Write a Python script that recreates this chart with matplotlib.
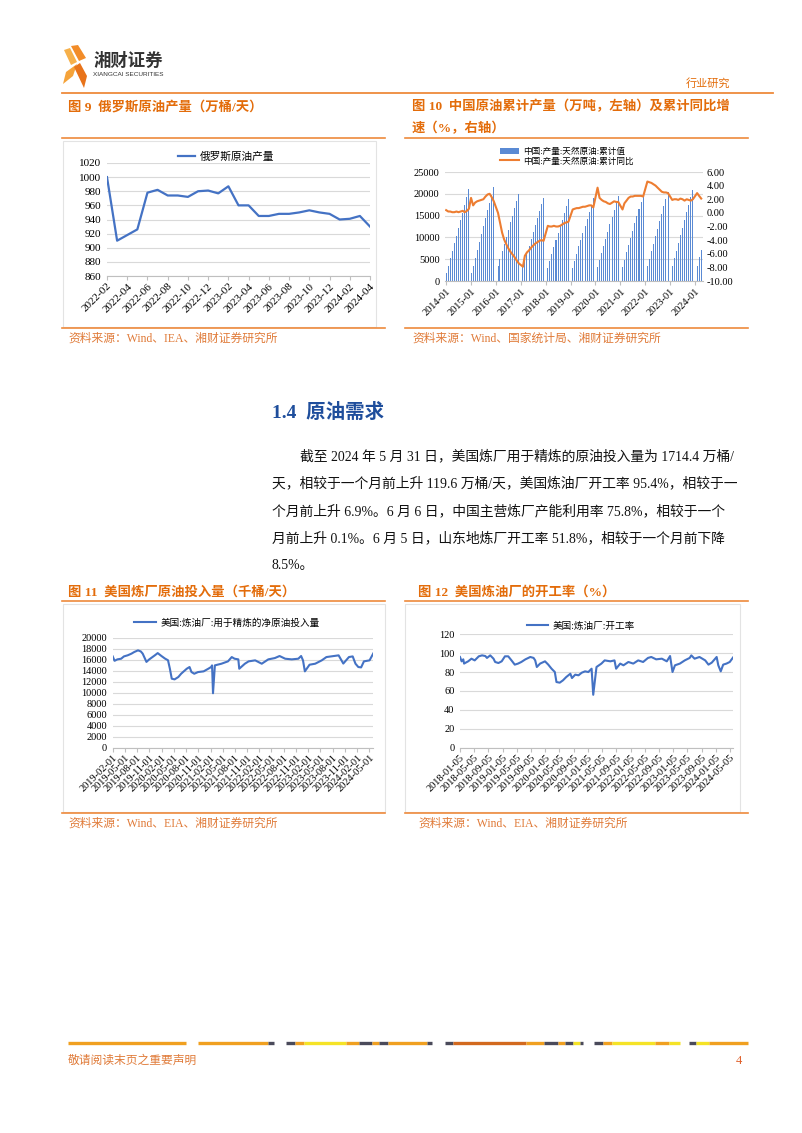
import numpy as np
import pandas as pd
import matplotlib
matplotlib.use('Agg')
import matplotlib.pyplot as plt
from matplotlib.patches import Polygon, Rectangle

plt.rcParams['font.family'] = ['Liberation Serif', 'Noto Sans CJK SC']
plt.rcParams['axes.unicode_minus'] = False

# ---- fig 9: russia crude output (10k bbl/d), monthly 2022-02 .. 2024-04
ru_months = pd.date_range('2022-02-01', '2024-04-01', freq='MS')
ru_output = [1000, 910, 918, 926, 978, 982, 974, 974, 972, 980, 981, 977, 987,
             960, 960, 945, 945, 948, 948, 950, 953, 950, 948, 940, 941, 945, 930]
ru_ticks = ['2022-02', '2022-04', '2022-06', '2022-08', '2022-10', '2022-12', '2023-02',
            '2023-04', '2023-06', '2023-08', '2023-10', '2023-12', '2024-02', '2024-04']

# ---- fig 10: china crude output, cumulative (10k t) and cumulative yoy (%)
cn_months = pd.date_range('2014-01-01', '2024-04-01', freq='MS')
nan = np.nan
cn_cum = [1780, 3450, 5200, 6900, 8700, 10400, 12200, 14000, 15700, 17500, 19200, 21143,
          1790, 3500, 5350, 7100, 8950, 10750, 12600, 14450, 16200, 18000, 19700, 21456,
          nan, 3370, 5150, 6800, 8500, 10160, 11800, 13450, 15000, 16700, 18300, 19969,
          nan, 3230, 4900, 6490, 8110, 9690, 11290, 12880, 14430, 16020, 17560, 19151,
          nan, 3070, 4690, 6270, 7870, 9410, 10970, 12540, 14070, 15650, 17240, 18911,
          nan, 3070, 4690, 6290, 7920, 9470, 11060, 12650, 14180, 15790, 17380, 19101,
          nan, 3160, 4850, 6460, 8120, 9720, 11350, 12990, 14590, 16230, 17870, 19477,
          nan, 3220, 4920, 6570, 8260, 9890, 11560, 13250, 14880, 16560, 18220, 19898,
          nan, 3350, 5110, 6810, 8560, 10250, 11970, 13700, 15370, 17110, 18820, 20467,
          nan, 3430, 5220, 6970, 8770, 10510, 12270, 14050, 15760, 17540, 19300, 20891,
          nan, 3530, 5410, 7140]
cn_yoy = [0.4, 0.2, 0.2, 0.1, 0.1, 0.2, 0.1, 0.2, 0.3, 0.1, 0.3, 0.6,
          2.2, 1.1, 1.5, 1.7, 1.8, 1.9, 2.0, 2.4, 2.7, 2.8, 2.3, 1.7,
          nan, 0.0, -1.4, -2.9, -3.9, -4.6, -5.2, -5.7, -6.1, -6.5, -7.0, -7.4,
          nan, -7.9, -6.3, -5.8, -5.5, -5.1, -4.8, -4.5, -4.3, -4.1, -4.0, -4.1,
          nan, -1.9, -2.0, -2.0, -1.9, -2.0, -2.0, -1.9, -1.7, -1.5, -1.4, -1.3,
          nan, 0.5, 0.6, 0.7, 0.7, 0.8, 0.9, 0.9, 1.0, 1.1, 1.1, 0.8,
          nan, 3.7, 2.2, 1.9, 1.7, 1.6, 1.4, 1.3, 1.5, 1.7, 1.6, 1.6,
          nan, 0.5, 1.4, 1.8, 2.2, 2.4, 2.4, 2.5, 2.5, 2.5, 2.5, 2.4,
          nan, 4.6, 4.5, 4.4, 4.2, 4.0, 3.7, 3.4, 3.1, 3.0, 3.0, 2.9,
          nan, 1.9, 2.0, 2.0, 1.9, 2.1, 2.0, 1.8, 2.0, 1.9, 1.8, 2.0,
          nan, 2.9, 2.5, 2.1]
cn_ticks = ['2014-01', '2015-01', '2016-01', '2017-01', '2018-01', '2019-01',
            '2020-01', '2021-01', '2022-01', '2023-01', '2024-01']

# ---- fig 11: us refinery net crude input (k bbl/d), weekly read at turning points
us_in_dates = ['2019-02-01', '2019-02-15', '2019-03-08', '2019-04-05', '2019-04-26', '2019-05-24',
               '2019-06-21', '2019-07-12', '2019-08-09', '2019-08-30', '2019-09-13', '2019-10-11',
               '2019-11-01', '2019-12-13', '2020-01-03', '2020-01-31', '2020-02-28', '2020-03-20',
               '2020-04-03', '2020-04-17', '2020-05-08', '2020-06-05', '2020-06-26', '2020-08-07',
               '2020-08-28', '2020-09-11', '2020-10-02', '2020-10-30', '2020-12-11', '2021-01-15',
               '2021-02-05', '2021-02-12', '2021-02-19', '2021-03-05', '2021-04-23', '2021-06-11',
               '2021-07-09', '2021-07-30', '2021-08-27', '2021-09-03', '2021-10-15', '2021-11-12',
               '2021-12-31', '2022-02-18', '2022-04-08', '2022-05-27', '2022-07-01', '2022-08-12',
               '2022-09-30', '2022-11-18', '2022-12-09', '2022-12-23', '2023-01-06', '2023-02-10',
               '2023-03-24', '2023-05-12', '2023-06-16', '2023-07-21', '2023-09-15', '2023-10-20',
               '2023-12-01', '2023-12-29', '2024-01-19', '2024-02-09', '2024-03-01', '2024-03-22',
               '2024-05-03', '2024-05-31']
us_in_vals = [16600, 15800, 16060, 16180, 16600, 16800,
              17100, 17400, 17700, 17500, 17100, 15600,
              16060, 16800, 17200, 16670, 16180, 15900,
              14360, 12550, 12420, 12850, 13450, 14360,
              14670, 13760, 13450, 13750, 13880, 14360,
              14670, 14970, 9900, 14970, 15270, 15700,
              16480, 16180, 16060, 14360, 15270, 15700,
              15880, 15270, 16060, 16300, 16670, 16180,
              16060, 16180, 16670, 15880, 13880, 15090,
              15270, 15880, 16480, 16600, 16790, 15300,
              16480, 16600, 15270, 14670, 14600, 15700,
              15880, 17144]
us_in_ticks = ['2019-02-01', '2019-05-01', '2019-08-01', '2019-11-01', '2020-02-01', '2020-05-01',
               '2020-08-01', '2020-11-01', '2021-02-01', '2021-05-01', '2021-08-01', '2021-11-01',
               '2022-02-01', '2022-05-01', '2022-08-01', '2022-11-01', '2023-02-01', '2023-05-01',
               '2023-08-01', '2023-11-01', '2024-02-01', '2024-05-01']

# ---- fig 12: us refinery utilisation (%)
us_ut_dates = ['2018-01-05', '2018-01-19', '2018-02-02', '2018-02-09', '2018-02-23', '2018-03-16',
               '2018-04-13', '2018-05-11', '2018-06-15', '2018-07-13', '2018-08-10', '2018-08-24',
               '2018-09-21', '2018-10-19', '2018-11-02', '2018-11-30', '2018-12-28', '2019-01-25',
               '2019-02-22', '2019-03-22', '2019-04-19', '2019-05-17', '2019-06-14', '2019-07-19',
               '2019-08-30', '2019-09-27', '2019-10-11', '2019-10-25', '2019-11-22', '2020-01-03',
               '2020-01-31', '2020-02-28', '2020-03-27', '2020-04-10', '2020-05-08', '2020-06-05',
               '2020-07-03', '2020-08-07', '2020-08-21', '2020-09-18', '2020-10-16', '2020-11-13',
               '2020-12-11', '2021-01-08', '2021-02-05', '2021-02-19', '2021-03-19', '2021-04-30',
               '2021-05-28', '2021-07-16', '2021-08-20', '2021-09-03', '2021-10-08', '2021-11-05',
               '2021-12-17', '2022-01-28', '2022-03-11', '2022-04-22', '2022-06-03', '2022-07-01',
               '2022-08-12', '2022-09-30', '2022-11-11', '2022-12-09', '2022-12-30', '2023-01-20',
               '2023-03-03', '2023-04-14', '2023-05-26', '2023-06-09', '2023-07-07', '2023-08-18',
               '2023-10-06', '2023-11-03', '2023-12-01', '2024-01-12', '2024-01-26', '2024-02-16',
               '2024-03-08', '2024-04-05', '2024-05-03', '2024-05-31']
us_ut_vals = [96, 91.4, 93.5, 89, 90, 91.4,
              94.2, 92.4, 96.7, 97.7, 97, 95,
              97.7, 94.2, 90.7, 89.6, 91.4, 96.7,
              96.7, 92.4, 87.9, 89, 90.7, 93.5,
              96, 95, 92.4, 85.4, 89, 91.4,
              87.9, 83.6, 80.1, 69.5, 68.8, 71.3,
              74.8, 78.3, 73.7, 77.3, 76.6, 79.4,
              80.8, 80.1, 83.6, 56.0, 85.4, 89,
              92.4, 91.4, 92.4, 83.6, 89, 87.2,
              90.7, 89, 92.4, 90.7, 95, 96,
              93.5, 94.2, 91.4, 97, 80.1, 87.2,
              89, 92.4, 95, 97.7, 94.2, 96,
              92.4, 87.9, 90, 96, 87.2, 80.8,
              87.9, 89, 90.7, 95.4]
us_ut_ticks = ['2018-01-05', '2018-05-05', '2018-09-05', '2019-01-05', '2019-05-05', '2019-09-05',
               '2020-01-05', '2020-05-05', '2020-09-05', '2021-01-05', '2021-05-05', '2021-09-05',
               '2022-01-05', '2022-05-05', '2022-09-05', '2023-01-05', '2023-05-05', '2023-09-05',
               '2024-01-05', '2024-05-05']

body_lines = ['截至 2024 年 5 月 31 日，美国炼厂用于精炼的原油投入量为 1714.4 万桶/',
              '天，相较于一个月前上升 119.6 万桶/天，美国炼油厂开工率 95.4%，相较于一',
              '个月前上升 6.9%。6 月 6 日，中国主营炼厂产能利用率 75.8%，相较于一个',
              '月前上升 0.1%。6 月 5 日，山东地炼厂开工率 51.8%，相较于一个月前下降',
              '8.5%。']

ORANGE = '#E36C0A'
RULE = '#EE8A3C'
BLUE = '#4472C4'
GRID = '#D9D9D9'
W, H = 802, 1133

fig = plt.figure(figsize=(W / 100, H / 100), dpi=100)
page = fig.add_axes([0, 0, 1, 1])
page.set_xlim(0, W)
page.set_ylim(H, 0)
page.axis('off')


def box(x0, y0, x1, y1):
    return [x0 / W, 1 - y1 / H, (x1 - x0) / W, (y1 - y0) / H]


def fpos(x, y):
    return (x / W, 1 - y / H)


def style(ax, fs):
    for s in ['left', 'right', 'top']:
        ax.spines[s].set_visible(False)
    ax.spines['bottom'].set_color('#BFBFBF')
    ax.yaxis.grid(True, color=GRID, lw=0.8)
    ax.set_axisbelow(True)
    ax.tick_params(axis='y', length=0, labelsize=fs, pad=4)
    ax.tick_params(axis='x', length=3, color='#BFBFBF', labelsize=fs, pad=1)


# header
page.add_patch(Polygon([(71, 46), (78, 45), (86, 58), (79, 61)], color='#F28C28', lw=0))
page.add_patch(Polygon([(64, 50), (70, 48), (77, 62), (71, 65)], color='#F6B04A', lw=0))
page.add_patch(Polygon([(63, 84), (66, 72), (77, 64), (73, 76)], color='#F5A33A', lw=0))
page.add_patch(Polygon([(74, 67), (80, 63), (87, 76), (84, 88)], color='#E8731A', lw=0))
page.text(93, 61, '湘财证券', fontsize=12.5, fontweight='bold', color='#333333',
          family=['Noto Sans CJK SC'], va='center')
page.text(93, 75, 'XIANGCAI SECURITIES', fontsize=4.6, color='#333333',
          family=['Liberation Sans'], va='center')
page.text(730, 83, '行业研究', fontsize=8, color=ORANGE, ha='right', va='center')
page.plot([62, 773], [93, 93], color=RULE, lw=1.3)

# section rules and captions
for x0, x1 in [(62, 385), (405, 748)]:
    page.plot([x0, x1], [138, 138], color=RULE, lw=1.2)
    page.plot([x0, x1], [328, 328], color=RULE, lw=1.2)
    page.plot([x0, x1], [601, 601], color=RULE, lw=1.2)
    page.plot([x0, x1], [813, 813], color=RULE, lw=1.2)

tkw = dict(fontsize=9.6, fontweight='bold', color=ORANGE, va='center')
page.text(68, 107, '图 9  俄罗斯原油产量（万桶/天）', **tkw)
page.text(412, 107, '图 10  中国原油累计产量（万吨，左轴）及累计同比增', **tkw)
page.text(412, 128, '速（%，右轴）', **tkw)
page.text(68, 592, '图 11  美国炼厂原油投入量（千桶/天）', **tkw)
page.text(418, 592, '图 12  美国炼油厂的开工率（%）', **tkw)

skw = dict(fontsize=8.5, color='#E07B39', va='center')
page.text(68, 339, '资料来源：Wind、IEA、湘财证券研究所', **skw)
page.text(412, 339, '资料来源：Wind、国家统计局、湘财证券研究所', **skw)
page.text(68, 824, '资料来源：Wind、EIA、湘财证券研究所', **skw)
page.text(418, 824, '资料来源：Wind、EIA、湘财证券研究所', **skw)

# chart frames
for x0, y0, x1, y1 in [(63, 141, 376, 327), (63, 604, 385, 812), (405, 604, 740, 812)]:
    page.add_patch(Rectangle((x0, y0), x1 - x0, y1 - y0, fill=False, ec='#E3E3E3', lw=0.8))

# body text
page.text(272, 412, '1.4  原油需求', fontsize=14, fontweight='bold', color='#1F4E9C', va='center')
for i, line in enumerate(body_lines):
    page.text(300 if i == 0 else 272, 456 + i * 27.5, line, fontsize=9.95, color='#111111',
              va='center')

# footer strip
strip = [(68, 186, '#F0A020'), (198, 268, '#F0A020'), (268, 274, '#4A4A5A'),
         (286, 295, '#4A4A5A'), (295, 304, '#F0A020'), (304, 346, '#F5E326'),
         (346, 359, '#F0A020'), (359, 372, '#4A4A5A'), (372, 379, '#F0A020'),
         (379, 388, '#4A4A5A'), (388, 427, '#F0A020'), (427, 432, '#4A4A5A'),
         (445, 453, '#4A4A5A'), (453, 526, '#D2691E'), (526, 544, '#F0A020'),
         (544, 558, '#4A4A5A'), (558, 565, '#F0A020'), (565, 573, '#4A4A5A'),
         (573, 580, '#F5E326'), (580, 583, '#4A4A5A'), (594, 603, '#4A4A5A'),
         (603, 612, '#F0A020'), (612, 655, '#F5E326'), (655, 669, '#F0A020'),
         (669, 680, '#F5E326'), (689, 696, '#4A4A5A'), (696, 709, '#F5E326'),
         (709, 748, '#F0A020')]
for x0, x1, c in strip:
    page.plot([x0, x1], [1043, 1043], color=c, lw=2.4, solid_capstyle='butt')
page.text(68, 1061, '敬请阅读末页之重要声明', fontsize=8.5, color='#E07B39', va='center')
page.text(742, 1061, '4', fontsize=9, color='#E0602A', va='center', ha='right')

# ---------------- fig 9
ax9 = fig.add_axes(box(107, 163, 370, 276))
x9 = np.arange(len(ru_output))
l9, = ax9.plot(x9, ru_output, color=BLUE, lw=1.6, label='俄罗斯原油产量')
ax9.set_xlim(0, len(ru_output) - 1)
ax9.set_ylim(860, 1020)
ax9.set_yticks(np.arange(860, 1021, 20))
style(ax9, 8)
tick_idx = [list(ru_months.strftime('%Y-%m')).index(t) for t in ru_ticks]
ax9.set_xticks(tick_idx)
ax9.set_xticklabels(ru_ticks, rotation=45, ha='right', rotation_mode='anchor')
fig.legend(handles=[l9], loc='center', bbox_to_anchor=fpos(226, 157), frameon=False,
           fontsize=7.7, handlelength=1.6, handletextpad=0.5)

# ---------------- fig 10
ax10 = fig.add_axes(box(445, 172, 702.5, 281))
cum = pd.Series(cn_cum, index=cn_months).dropna()
yoy = pd.Series(cn_yoy, index=cn_months).dropna()
b10 = ax10.bar(cum.index, cum.values, width=15, color='#5A8AD4', label='中国:产量:天然原油:累计值')
ax10.set_ylim(0, 25000)
ax10.set_yticks(np.arange(0, 25001, 5000))
ax10.set_xlim(pd.Timestamp('2013-12-15'), pd.Timestamp('2024-04-20'))
style(ax10, 7.5)
ax10.set_xticks(pd.to_datetime(cn_ticks))
ax10.set_xticklabels(cn_ticks, rotation=45, ha='right', rotation_mode='anchor')
ax10b = ax10.twinx()
l10, = ax10b.plot(yoy.index, yoy.values, color='#ED7D31', lw=1.5, label='中国:产量:天然原油:累计同比')
ax10b.set_ylim(-10, 6)
ax10b.set_yticks(np.arange(-10, 6.1, 2))
ax10b.set_yticklabels(['%.2f' % v for v in np.arange(-10, 6.1, 2)])
for s in ['left', 'right', 'top', 'bottom']:
    ax10b.spines[s].set_visible(False)
ax10b.tick_params(axis='y', length=0, labelsize=7.5, pad=3)
fig.legend(handles=[b10, l10], loc='center', bbox_to_anchor=fpos(567, 156.5), frameon=False,
           fontsize=6.2, handlelength=2.2, handleheight=0.8, handletextpad=0.5, labelspacing=0.15)

# ---------------- fig 11
ax11 = fig.add_axes(box(112.7, 637.7, 373.3, 747.7))
l11, = ax11.plot(pd.to_datetime(us_in_dates), us_in_vals, color=BLUE, lw=1.5,
                 label='美国:炼油厂:用于精炼的净原油投入量')
ax11.set_xlim(pd.Timestamp('2019-02-01'), pd.Timestamp('2024-05-31'))
ax11.set_ylim(0, 20000)
ax11.set_yticks(np.arange(0, 20001, 2000))
style(ax11, 7.5)
ax11.set_xticks(pd.to_datetime(us_in_ticks))
ax11.set_xticklabels(us_in_ticks, rotation=45, ha='right', rotation_mode='anchor')
fig.legend(handles=[l11], loc='center', bbox_to_anchor=fpos(227, 623), frameon=False,
           fontsize=6.9, handlelength=2.2, handletextpad=0.5)

# ---------------- fig 12
ax12 = fig.add_axes(box(460, 634.3, 733, 747.7))
l12, = ax12.plot(pd.to_datetime(us_ut_dates), us_ut_vals, color=BLUE, lw=1.5,
                 label='美国:炼油厂:开工率')
ax12.set_xlim(pd.Timestamp('2018-01-05'), pd.Timestamp('2024-05-31'))
ax12.set_ylim(0, 120)
ax12.set_yticks(np.arange(0, 121, 20))
style(ax12, 7.5)
ax12.set_xticks(pd.to_datetime(us_ut_ticks))
ax12.set_xticklabels(us_ut_ticks, rotation=45, ha='right', rotation_mode='anchor')
fig.legend(handles=[l12], loc='center', bbox_to_anchor=fpos(581, 626), frameon=False,
           fontsize=6.9, handlelength=2.2, handletextpad=0.5)

fig.savefig('out.png', dpi=100)
